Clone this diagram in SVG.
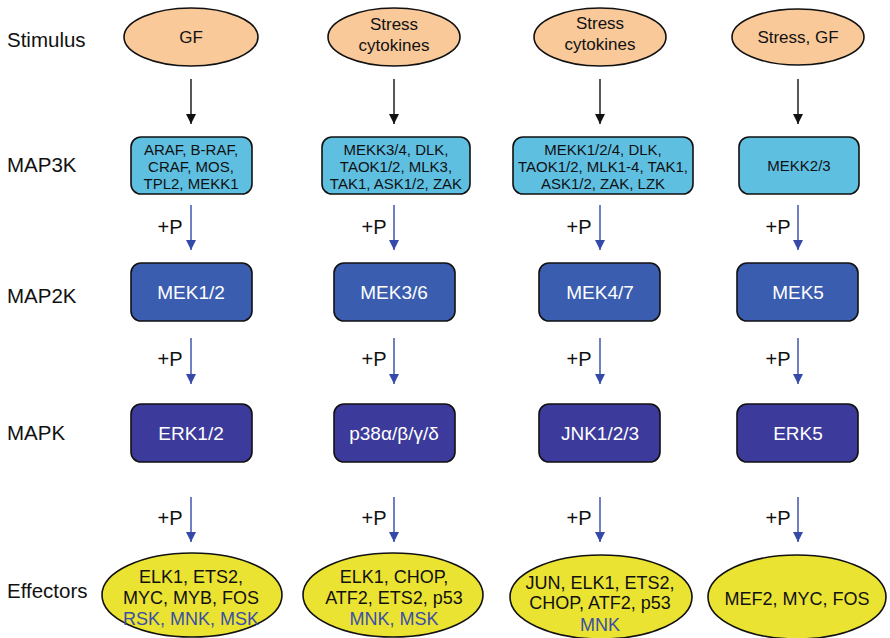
<svg xmlns="http://www.w3.org/2000/svg" width="890" height="638" viewBox="0 0 890 638">
<defs>
<marker id="ab" viewBox="0 0 10 10" refX="10" refY="5" markerWidth="10" markerHeight="10" markerUnits="userSpaceOnUse" orient="auto"><path d="M0,0 L10,5 L0,10 Z" fill="#111"/></marker>
<marker id="au" viewBox="0 0 10 10" refX="10" refY="5" markerWidth="10" markerHeight="10" markerUnits="userSpaceOnUse" orient="auto"><path d="M0,0 L10,5 L0,10 Z" fill="#3449a8"/></marker>
</defs>
<style>
text{font-family:"Liberation Sans",Arial,sans-serif;fill:#111;text-anchor:middle}
.lab{text-anchor:start;font-size:20.5px}
.stim{fill:#f9c99a;stroke:#111;stroke-width:1.6}
.m3{fill:#5fbfe1;stroke:#111;stroke-width:1.6}
.m2{fill:#3b5daf;stroke:#111;stroke-width:1.6}
.mk{fill:#3c3a9b;stroke:#111;stroke-width:1.6}
.eff{fill:#ebe332;stroke:#111;stroke-width:1.6}
.st{font-size:17px}
.t3{font-size:15px}
.tw{font-size:19px;fill:#fff}
.te{font-size:18px}
.bl{fill:#3a4fa6}
.p{font-size:20px}
.ka{stroke:#111;stroke-width:1.4;marker-end:url(#ab)}
.ba{stroke:#3449a8;stroke-width:1.4;marker-end:url(#au)}
</style>
<g id="labels">
<text class="lab" x="7" y="47">Stimulus</text>
<text class="lab" x="7" y="172">MAP3K</text>
<text class="lab" x="7" y="303">MAP2K</text>
<text class="lab" x="7" y="440">MAPK</text>
<text class="lab" x="7" y="598">Effectors</text>
</g>
<g id="connectors">
<line class="ka" x1="191" y1="79" x2="191" y2="124"/>
<line class="ka" x1="394" y1="79" x2="394" y2="124"/>
<line class="ka" x1="600" y1="79" x2="600" y2="124"/>
<line class="ka" x1="798" y1="79" x2="798" y2="124"/>
<line class="ba" x1="191" y1="205" x2="191" y2="250"/>
<line class="ba" x1="394" y1="205" x2="394" y2="250"/>
<line class="ba" x1="600" y1="205" x2="600" y2="250"/>
<line class="ba" x1="798" y1="205" x2="798" y2="250"/>
<line class="ba" x1="191" y1="338" x2="191" y2="384"/>
<line class="ba" x1="394" y1="338" x2="394" y2="384"/>
<line class="ba" x1="600" y1="338" x2="600" y2="384"/>
<line class="ba" x1="798" y1="338" x2="798" y2="384"/>
<line class="ba" x1="191" y1="497" x2="191" y2="542"/>
<line class="ba" x1="394" y1="497" x2="394" y2="542"/>
<line class="ba" x1="600" y1="497" x2="600" y2="542"/>
<line class="ba" x1="798" y1="497" x2="798" y2="542"/>
<text class="p" x="170" y="234">+P</text>
<text class="p" x="374" y="234">+P</text>
<text class="p" x="579" y="234">+P</text>
<text class="p" x="778" y="234">+P</text>
<text class="p" x="170" y="366">+P</text>
<text class="p" x="374" y="366">+P</text>
<text class="p" x="579" y="366">+P</text>
<text class="p" x="778" y="366">+P</text>
<text class="p" x="170" y="525">+P</text>
<text class="p" x="374" y="525">+P</text>
<text class="p" x="579" y="525">+P</text>
<text class="p" x="778" y="525">+P</text>
</g>
<g id="stim1"><ellipse class="stim" cx="191" cy="37" rx="67" ry="29"/><text class="st" x="191" y="43">GF</text></g>
<g id="stim2"><ellipse class="stim" cx="394" cy="37" rx="66" ry="29"/><text class="st" x="394" y="30">Stress</text><text class="st" x="394" y="51">cytokines</text></g>
<g id="stim3"><ellipse class="stim" cx="600" cy="37" rx="66" ry="29"/><text class="st" x="600" y="29">Stress</text><text class="st" x="600" y="50">cytokines</text></g>
<g id="stim4"><ellipse class="stim" cx="798" cy="37" rx="66" ry="28"/><text class="st" x="798" y="43">Stress, GF</text></g>
<g id="m3k1"><rect class="m3" x="131" y="137" width="121" height="57" rx="10"/><text class="t3" x="191" y="155">ARAF, B-RAF,</text><text class="t3" x="191" y="172">CRAF, MOS,</text><text class="t3" x="191" y="189">TPL2, MEKK1</text></g>
<g id="m3k2"><rect class="m3" x="322" y="137" width="148" height="57" rx="10"/><text class="t3" x="396" y="155">MEKK3/4, DLK,</text><text class="t3" x="396" y="172">TAOK1/2, MLK3,</text><text class="t3" x="396" y="189">TAK1, ASK1/2, ZAK</text></g>
<g id="m3k3"><rect class="m3" x="513" y="137" width="180" height="57" rx="10"/><text class="t3" x="603" y="155">MEKK1/2/4, DLK,</text><text class="t3" x="603" y="172">TAOK1/2, MLK1-4, TAK1,</text><text class="t3" x="603" y="189">ASK1/2, ZAK, LZK</text></g>
<g id="m3k4"><rect class="m3" x="739" y="137" width="120" height="57" rx="10"/><text class="t3" x="799" y="171">MEKK2/3</text></g>
<g id="m2k1"><rect class="m2" x="131" y="263" width="121" height="58" rx="10"/><text class="tw" x="191" y="299">MEK1/2</text></g>
<g id="m2k2"><rect class="m2" x="334" y="263" width="121" height="58" rx="10"/><text class="tw" x="394" y="299">MEK3/6</text></g>
<g id="m2k3"><rect class="m2" x="539" y="263" width="121" height="58" rx="10"/><text class="tw" x="600" y="299">MEK4/7</text></g>
<g id="m2k4"><rect class="m2" x="737" y="263" width="121" height="58" rx="10"/><text class="tw" x="798" y="299">MEK5</text></g>
<g id="mk1"><rect class="mk" x="131" y="404" width="121" height="58" rx="10"/><text class="tw" x="191" y="440">ERK1/2</text></g>
<g id="mk2"><rect class="mk" x="334" y="404" width="121" height="58" rx="10"/><text class="tw" x="394" y="440">p38α/β/γ/δ</text></g>
<g id="mk3"><rect class="mk" x="539" y="404" width="121" height="58" rx="10"/><text class="tw" x="600" y="440">JNK1/2/3</text></g>
<g id="mk4"><rect class="mk" x="737" y="404" width="121" height="58" rx="10"/><text class="tw" x="798" y="440">ERK5</text></g>
<g id="eff1"><ellipse class="eff" cx="192" cy="595" rx="90" ry="42"/><text class="te" x="191" y="583">ELK1, ETS2,</text><text class="te" x="191" y="604">MYC, MYB, FOS</text><text class="te bl" x="191" y="625">RSK, MNK, MSK</text></g>
<g id="eff2"><ellipse class="eff" cx="393" cy="595" rx="90" ry="42"/><text class="te" x="394" y="583">ELK1, CHOP,</text><text class="te" x="394" y="604">ATF2, ETS2, p53</text><text class="te bl" x="394" y="625">MNK, MSK</text></g>
<g id="eff3"><ellipse class="eff" cx="601" cy="597" rx="91" ry="42"/><text class="te" x="600" y="589">JUN, ELK1, ETS2,</text><text class="te" x="600" y="609">CHOP, ATF2, p53</text><text class="te bl" x="600" y="631">MNK</text></g>
<g id="eff4"><ellipse class="eff" cx="797" cy="597" rx="89" ry="42"/><text class="te" x="797" y="605">MEF2, MYC, FOS</text></g>
</svg>
